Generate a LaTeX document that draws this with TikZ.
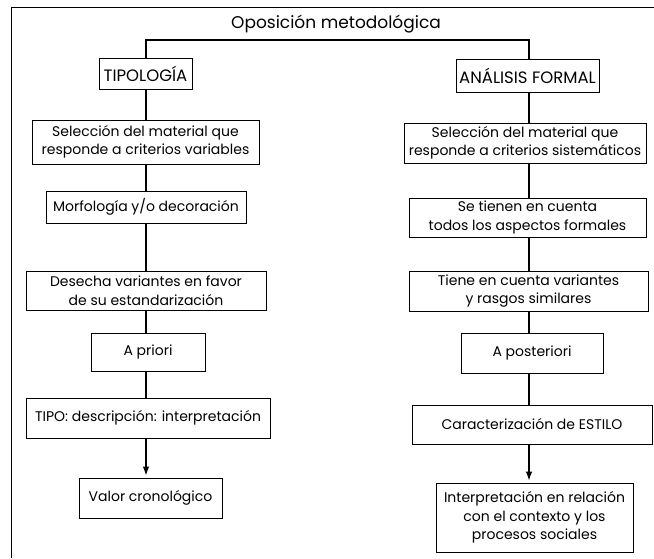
\documentclass[tikz,border=0pt]{standalone}
\usepackage{fontspec}
\setmainfont{Poppins}
\usetikzlibrary{arrows.meta}
\tikzset{
  box/.style={draw, line width=0.9pt, inner sep=0pt, align=center, font=\fontsize{14}{18.5}\selectfont},
  head/.style={box, font=\fontsize{16.5}{20}\selectfont},
  conn/.style={line width=1.1pt},
  arr/.style={line width=1.1pt, -{Latex[length=9pt,width=6.5pt]}, shorten >=2pt},
  frame/.style={line width=0.9pt}
}
\begin{document}
\begin{tikzpicture}[x=1pt,y=-1pt]
\useasboundingbox (0,0) rectangle (654,558);
\draw[frame] (11,558) -- (11,7) -- (654,7);
\node[font=\fontsize{17}{20}\selectfont] (title) at (336,24) {Oposición metodológica};
\coordinate (bl) at (146,40);
\coordinate (br) at (529,40);
% headers
\node[head, minimum width=93pt, minimum height=31pt] (tip) at (145.5,73.5) {TIPOLOGÍA};
\node[head, minimum width=143pt, minimum height=33pt] (ana) at (527.5,75.5) {ANÁLISIS FORMAL};
% left column
\node[box, minimum width=227pt, minimum height=44pt] (l1) at (145.5,142) {Selección del material que\\responde a criterios variables};
\node[box, minimum width=200pt, minimum height=32pt] (l2) at (146,207) {Morfología y/o decoración};
\node[box, minimum width=240pt, minimum height=39pt] (l3) at (146,290.5) {Desecha variantes en favor\\de su estandarización};
\node[box, minimum width=114pt, minimum height=38pt] (l4) at (148,352) {A priori};
\node[box, minimum width=244pt, minimum height=40pt] (l5) at (148,418) {TIPO: descripción: interpretación};
\node[box, minimum width=143pt, minimum height=40pt] (l6) at (150.5,498) {Valor cronológico};
% right column
\node[box, minimum width=242pt, minimum height=40pt] (r1) at (525,143) {Selección del material que\\responde a criterios sistemáticos};
\node[box, minimum width=237pt, minimum height=39pt] (r2) at (527.5,217.5) {Se tienen en cuenta\\todos los aspectos formales};
\node[box, minimum width=239pt, minimum height=40pt] (r3) at (528.5,291) {Tiene en cuenta variantes\\y rasgos similares};
\node[box, minimum width=142pt, minimum height=40pt] (r4) at (532,353) {A posteriori};
\node[box, minimum width=240pt, minimum height=39pt] (r5) at (532,424.5) {Caracterización de ESTILO};
\node[box, minimum width=197pt, minimum height=69pt] (r6) at (534.5,517.5) {Interpretación en relación\\con el contexto y los\\procesos sociales};
% bracket
\draw[conn] (tip.north -| bl) -- (bl) -- (br) -- (ana.north -| br);
% left connectors
\draw[conn] (tip.south -| bl) -- (l1.north -| bl);
\draw[conn] (l1.south -| bl) -- (l2.north -| bl);
\draw[conn] (l2.south -| bl) -- (l3.north -| bl);
\draw[conn] (l3.south -| bl) -- (l4.north -| bl);
\draw[conn] (l4.south -| bl) -- (l5.north -| bl);
\draw[arr] (l5.south -| bl) -- (l6.north -| bl);
% right connectors
\draw[conn] (ana.south -| br) -- (r1.north -| br);
\draw[conn] (r1.south -| br) -- (r2.north -| br);
\draw[conn] (r2.south -| br) -- (r3.north -| br);
\draw[conn] (r3.south -| br) -- (r4.north -| br);
\draw[conn] (r4.south -| br) -- (r5.north -| br);
\draw[arr] (r5.south -| br) -- (r6.north -| br);
\end{tikzpicture}
\end{document}
